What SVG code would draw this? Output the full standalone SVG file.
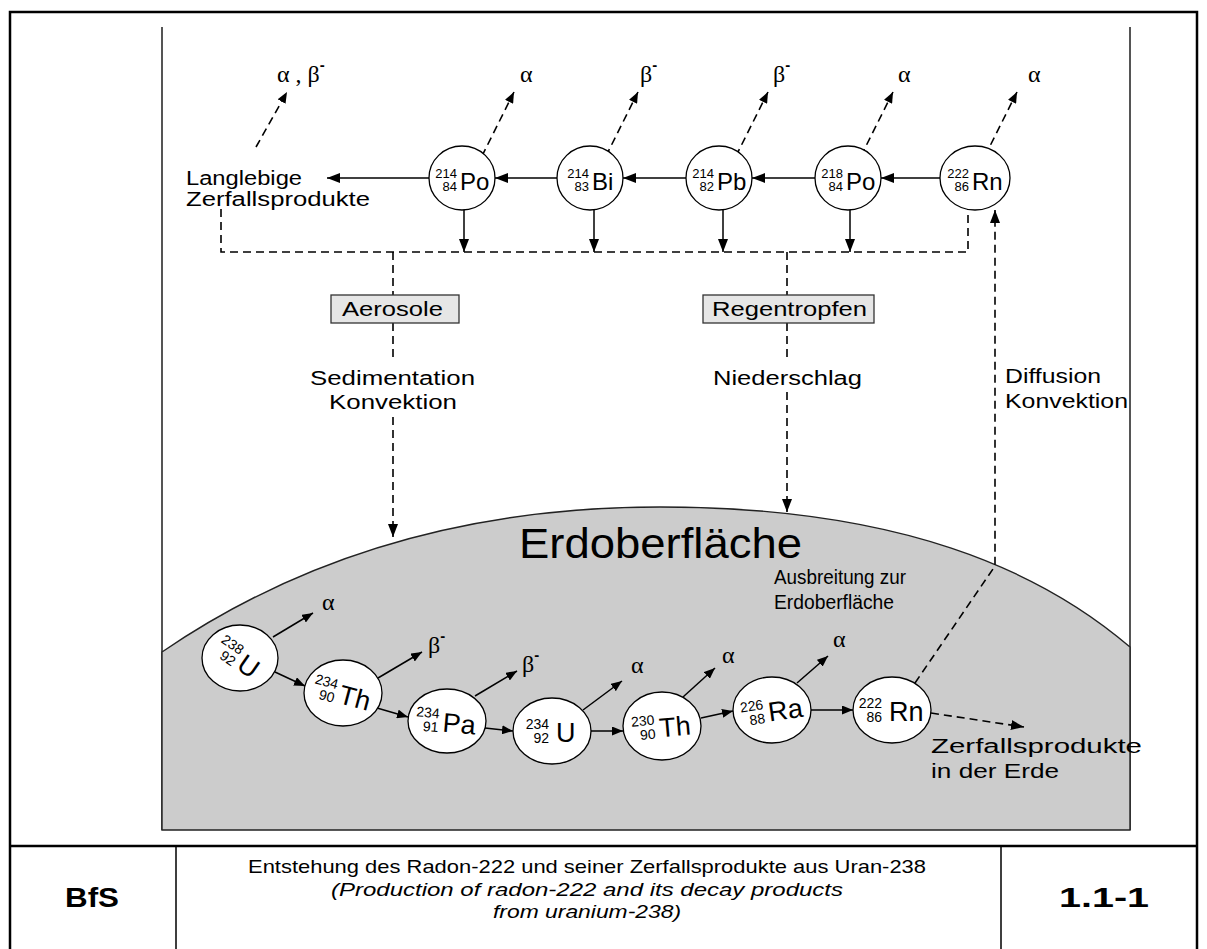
<svg xmlns="http://www.w3.org/2000/svg" width="1207" height="949" viewBox="0 0 1207 949">
<defs>
<style>
text{font-family:"Liberation Sans",Arial,sans-serif;fill:#000}
.g{font-family:"Liberation Serif","Times New Roman",serif;font-size:24px}
.mi{font-family:"Liberation Sans",Arial,sans-serif;font-weight:bold;font-size:15px}
.lbl{font-size:20px}
.n{font-size:13px}
.nb{font-size:14px}
.s{font-size:24px}
.sb{font-size:27px}
.solid{stroke:#000;stroke-width:1.5;fill:none}
.dash{stroke:#000;stroke-width:1.6;fill:none;stroke-dasharray:8 5}
.node{fill:#fff;stroke:#000;stroke-width:1.3}
.box{fill:#e6e6e6;stroke:#333;stroke-width:1.3}
.frame{stroke:#000;fill:none}
</style>
<marker id="ah" markerUnits="userSpaceOnUse" markerWidth="14" markerHeight="10" refX="13" refY="5" orient="auto"><path d="M0,0L13,5L0,10z" fill="#000"/></marker>
<marker id="ahs" markerUnits="userSpaceOnUse" markerWidth="12" markerHeight="9" refX="11" refY="4.5" orient="auto"><path d="M0,0L11,4.5L0,9z" fill="#000"/></marker>
</defs>
<rect width="1207" height="949" fill="#fff"/>
<g id="frame">
<path class="frame" stroke-width="2.5" d="M10,949V12H1197V949"/>
<path class="frame" stroke-width="2.5" d="M10,846H1197"/>
<path class="frame" stroke-width="1.5" d="M176,846V949M1001,846V949"/>
<path stroke="#555" stroke-width="2" fill="none" d="M162,27V830M1130,27V830"/>
</g>
<g id="ground">
<path d="M162,652C260,585 420,507 660,507C900,507 1040,570 1130,647L1130,830L162,830Z" fill="#cccccc" stroke="#222" stroke-width="1.4"/>
<text x="519" y="558" font-size="42" textLength="283" lengthAdjust="spacingAndGlyphs">Erdoberfläche</text>
</g>
<g id="connectors">
<path class="solid" marker-end="url(#ah)" d="M940,178H881"/>
<path class="solid" marker-end="url(#ah)" d="M815,178H752"/>
<path class="solid" marker-end="url(#ah)" d="M686,178H623"/>
<path class="solid" marker-end="url(#ah)" d="M557,178H495"/>
<path class="solid" marker-end="url(#ah)" d="M429,178H327"/>
<path class="solid" marker-end="url(#ah)" d="M464,205V252"/>
<path class="solid" marker-end="url(#ah)" d="M594,205V252"/>
<path class="solid" marker-end="url(#ah)" d="M723,205V252"/>
<path class="solid" marker-end="url(#ah)" d="M850,205V252"/>
<path class="dash" d="M221,209V252H968V205"/>
<path class="dash" marker-end="url(#ahs)" d="M256,147L287,92"/>
<path class="dash" marker-end="url(#ahs)" d="M476,168L514,92"/>
<path class="dash" marker-end="url(#ahs)" d="M600,168L638,92"/>
<path class="dash" marker-end="url(#ahs)" d="M730,168L768,92"/>
<path class="dash" marker-end="url(#ahs)" d="M855,168L893,92"/>
<path class="dash" marker-end="url(#ahs)" d="M979,168L1017,92"/>
<path class="dash" d="M393,252V295M393,323V362"/>
<path class="dash" marker-end="url(#ah)" d="M393,417V537"/>
<path class="dash" d="M787,252V295M787,323V362"/>
<path class="dash" marker-end="url(#ah)" d="M787,392V512"/>
<path class="dash" marker-end="url(#ah)" d="M915,683L995,566V210"/>
<path class="solid" marker-end="url(#ahs)" d="M275,672L305,686"/>
<path class="solid" marker-end="url(#ahs)" d="M377,708L408,717"/>
<path class="solid" marker-end="url(#ahs)" d="M485,728L513,731"/>
<path class="solid" marker-end="url(#ahs)" d="M591,731L623,731"/>
<path class="solid" marker-end="url(#ahs)" d="M701,718L733,711"/>
<path class="solid" marker-end="url(#ahs)" d="M811,710L853,710"/>
<path class="solid" marker-end="url(#ahs)" d="M273,637L313,613"/>
<path class="solid" marker-end="url(#ahs)" d="M378,678L422,652"/>
<path class="solid" marker-end="url(#ahs)" d="M475,696L517,671"/>
<path class="solid" marker-end="url(#ahs)" d="M583,710L622,681"/>
<path class="solid" marker-end="url(#ahs)" d="M683,697L715,668"/>
<path class="solid" marker-end="url(#ahs)" d="M797,683L828,656"/>
<path class="dash" marker-end="url(#ah)" d="M931,713L1024,727"/>
</g>
<g id="labels">
<text class="g" x="277" y="82">α , β<tspan class="mi" dy="-12">-</tspan></text>
<text class="g" x="520" y="82">α</text>
<text class="g" x="640" y="82">β<tspan class="mi" dy="-12">-</tspan></text>
<text class="g" x="773" y="82">β<tspan class="mi" dy="-12">-</tspan></text>
<text class="g" x="898" y="82">α</text>
<text class="g" x="1028" y="82">α</text>
<text class="lbl" x="186" y="185" textLength="116" lengthAdjust="spacingAndGlyphs">Langlebige</text>
<text class="lbl" x="186" y="206" textLength="184" lengthAdjust="spacingAndGlyphs">Zerfallsprodukte</text>
<text class="lbl" x="310" y="385" textLength="165" lengthAdjust="spacingAndGlyphs">Sedimentation</text>
<text class="lbl" x="329" y="409" textLength="128" lengthAdjust="spacingAndGlyphs">Konvektion</text>
<text class="lbl" x="713" y="385" textLength="149" lengthAdjust="spacingAndGlyphs">Niederschlag</text>
<text class="lbl" x="1005" y="383" textLength="96" lengthAdjust="spacingAndGlyphs">Diffusion</text>
<text class="lbl" x="1005" y="408" textLength="123" lengthAdjust="spacingAndGlyphs">Konvektion</text>
<text class="lbl" x="774" y="584" font-size="17" textLength="132" lengthAdjust="spacingAndGlyphs">Ausbreitung zur</text>
<text class="lbl" x="774" y="609" font-size="17" textLength="120" lengthAdjust="spacingAndGlyphs">Erdoberfläche</text>
<text class="lbl" x="931" y="753" font-size="21" textLength="211" lengthAdjust="spacingAndGlyphs">Zerfallsprodukte</text>
<text class="lbl" x="931" y="778" font-size="21" textLength="128" lengthAdjust="spacingAndGlyphs">in der Erde</text>
<text class="g" x="322" y="610">α</text>
<text class="g" x="428" y="653">β<tspan class="mi" dy="-12">-</tspan></text>
<text class="g" x="522" y="672">β<tspan class="mi" dy="-12">-</tspan></text>
<text class="g" x="631" y="673">α</text>
<text class="g" x="722" y="663">α</text>
<text class="g" x="833" y="647">α</text>
</g>
<g id="aerosole"><rect class="box" x="331" y="295" width="128" height="28"/><text class="lbl" x="342" y="316" textLength="101" lengthAdjust="spacingAndGlyphs">Aerosole</text></g>
<g id="regentropfen"><rect class="box" x="703" y="295" width="171" height="28"/><text class="lbl" x="712" y="316" textLength="155" lengthAdjust="spacingAndGlyphs">Regentropfen</text></g>
<g id="po214"><ellipse class="node" cx="462" cy="178" rx="33" ry="32"/><text class="n" x="457" y="178" text-anchor="end">214</text><text class="n" x="457" y="191" text-anchor="end">84</text><text class="s" x="460" y="190">Po</text></g>
<g id="bi214"><ellipse class="node" cx="590" cy="178" rx="33" ry="32"/><text class="n" x="589" y="178" text-anchor="end">214</text><text class="n" x="589" y="191" text-anchor="end">83</text><text class="s" x="592" y="190">Bi</text></g>
<g id="pb214"><ellipse class="node" cx="719" cy="178" rx="33" ry="32"/><text class="n" x="714" y="178" text-anchor="end">214</text><text class="n" x="714" y="191" text-anchor="end">82</text><text class="s" x="717" y="190">Pb</text></g>
<g id="po218"><ellipse class="node" cx="848" cy="178" rx="33" ry="32"/><text class="n" x="843" y="178" text-anchor="end">218</text><text class="n" x="843" y="191" text-anchor="end">84</text><text class="s" x="846" y="190">Po</text></g>
<g id="rn222top"><ellipse class="node" cx="975" cy="178" rx="35" ry="32"/><text class="n" x="969" y="178" text-anchor="end">222</text><text class="n" x="969" y="191" text-anchor="end">86</text><text class="s" x="972" y="190">Rn</text></g>
<g id="u238"><ellipse class="node" cx="240" cy="658" rx="38" ry="33"/><g transform="translate(240,658) rotate(35)"><text class="nb" x="-2" y="-2" text-anchor="end">238</text><text class="nb" x="-2" y="12" text-anchor="end">92</text><text class="sb" x="2" y="11">U</text></g></g>
<g id="th234"><ellipse class="node" cx="343" cy="693" rx="39" ry="33"/><g transform="translate(343,693) rotate(15)"><text class="nb" x="-7" y="-2" text-anchor="end">234</text><text class="nb" x="-7" y="12" text-anchor="end">90</text><text class="sb" x="-3" y="11">Th</text></g></g>
<g id="pa234"><ellipse class="node" cx="447" cy="721" rx="39" ry="32"/><g transform="translate(447,721) rotate(5)"><text class="nb" x="-8" y="-2" text-anchor="end">234</text><text class="nb" x="-8" y="12" text-anchor="end">91</text><text class="sb" x="-4" y="11">Pa</text></g></g>
<g id="u234"><ellipse class="node" cx="552" cy="731" rx="39" ry="33"/><g transform="translate(552,731)"><text class="nb" x="-3" y="-2" text-anchor="end">234</text><text class="nb" x="-3" y="12" text-anchor="end">92</text><text class="sb" x="4" y="11">U</text></g></g>
<g id="th230"><ellipse class="node" cx="662" cy="726" rx="39" ry="34"/><g transform="translate(662,726) rotate(-5)"><text class="nb" x="-7" y="-2" text-anchor="end">230</text><text class="nb" x="-7" y="12" text-anchor="end">90</text><text class="sb" x="-3" y="11">Th</text></g></g>
<g id="ra226"><ellipse class="node" cx="772" cy="710" rx="39" ry="33"/><g transform="translate(772,710) rotate(-8)"><text class="nb" x="-8" y="-2" text-anchor="end">226</text><text class="nb" x="-8" y="12" text-anchor="end">88</text><text class="sb" x="-4" y="11">Ra</text></g></g>
<g id="rn222"><ellipse class="node" cx="892" cy="710" rx="39" ry="33"/><g transform="translate(892,710)"><text class="nb" x="-10" y="-2" text-anchor="end">222</text><text class="nb" x="-10" y="12" text-anchor="end">86</text><text class="sb" x="-3" y="11">Rn</text></g></g>
<g id="footer">
<text x="92" y="907" font-size="28" font-weight="bold" text-anchor="middle" textLength="54" lengthAdjust="spacingAndGlyphs">BfS</text>
<text x="587" y="873" font-size="19" text-anchor="middle" textLength="678" lengthAdjust="spacingAndGlyphs">Entstehung des Radon-222 und seiner Zerfallsprodukte aus Uran-238</text>
<text x="587" y="896" font-size="19" font-style="italic" text-anchor="middle" textLength="512" lengthAdjust="spacingAndGlyphs">(Production of radon-222 and its decay products</text>
<text x="587" y="918" font-size="19" font-style="italic" text-anchor="middle" textLength="188" lengthAdjust="spacingAndGlyphs">from uranium-238)</text>
<text x="1104" y="907" font-size="28" font-weight="bold" text-anchor="middle" textLength="90" lengthAdjust="spacingAndGlyphs">1.1-1</text>
</g>
</svg>
